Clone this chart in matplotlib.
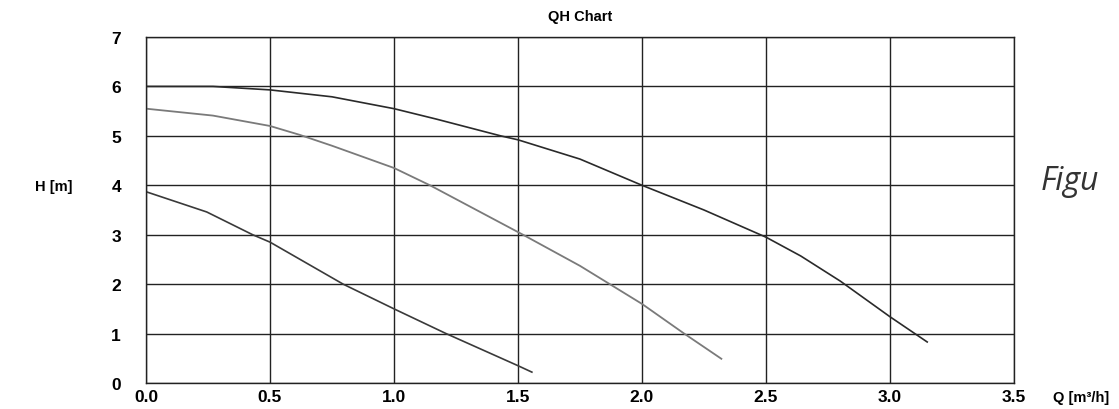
import numpy as np
import matplotlib.pyplot as plt

plt.rcParams['font.family'] = ['Liberation Sans', 'DejaVu Sans']

# pump curves
q_high = [0.0, 0.27, 0.5, 0.75, 1.0, 1.17, 1.43, 1.5, 1.75, 2.0, 2.25, 2.5, 2.64, 2.8, 3.0, 3.15]
h_high = [6.0, 6.0, 5.93, 5.79, 5.55, 5.34, 5.0, 4.92, 4.53, 4.0, 3.5, 2.95, 2.57, 2.06, 1.34, 0.83]

q_mid = [0.0, 0.27, 0.5, 0.62, 0.75, 1.0, 1.145, 1.52, 1.75, 2.0, 2.17, 2.32]
h_mid = [5.55, 5.41, 5.2, 5.02, 4.8, 4.35, 4.0, 3.0, 2.37, 1.6, 1.0, 0.49]

q_low = [0.0, 0.245, 0.43, 0.5, 0.795, 1.0, 1.21, 1.5, 1.556]
h_low = [3.87, 3.46, 3.0, 2.85, 2.0, 1.5, 1.0, 0.35, 0.22]

xticks = [0.0, 0.5, 1.0, 1.5, 2.0, 2.5, 3.0, 3.5]
yticks = [0, 1, 2, 3, 4, 5, 6, 7]

fig = plt.figure(figsize=(11.19, 4.10), dpi=100)
ax = fig.add_axes([146/1119, 1 - 384/410, (1014-146)/1119, (384-38)/410])

ax.plot(q_high, h_high, color='#2a2a2a', lw=1.2)
ax.plot(q_mid, h_mid, color='#7a7a7a', lw=1.3)
ax.plot(q_low, h_low, color='#3a3a3a', lw=1.2)

ax.set_xlim(0, 3.5)
ax.set_ylim(0, 7)
ax.set_xticks(xticks)
ax.set_yticks(yticks)
ax.set_xticklabels(['%.1f' % v for v in xticks], fontweight='bold', fontsize=12.5)
ax.set_yticklabels([str(v) for v in yticks], fontweight='bold', fontsize=12.5)
ax.tick_params(length=0)
ax.tick_params(axis='x', pad=4)
ax.tick_params(axis='y', pad=18)
ax.grid(True, color='#222222', lw=1.0)
for s in ax.spines.values():
    s.set_color('#222222')
    s.set_linewidth(1.0)

ax.set_title('QH Chart', fontweight='bold', fontsize=10.5, pad=12)
fig.text(35/1119, 1 - 187/410, 'H [m]', fontweight='bold', fontsize=10.5, va='center')
fig.text(1053/1119, 1 - 398/410, 'Q [m³/h]', fontweight='bold', fontsize=10.5, va='center')
fig.text(1041/1119, 1 - 182/410, 'Figu', fontstyle='italic', fontsize=23,
         color='#333333', va='center', family='Open Sans')

fig.savefig('out.png', dpi=100)
